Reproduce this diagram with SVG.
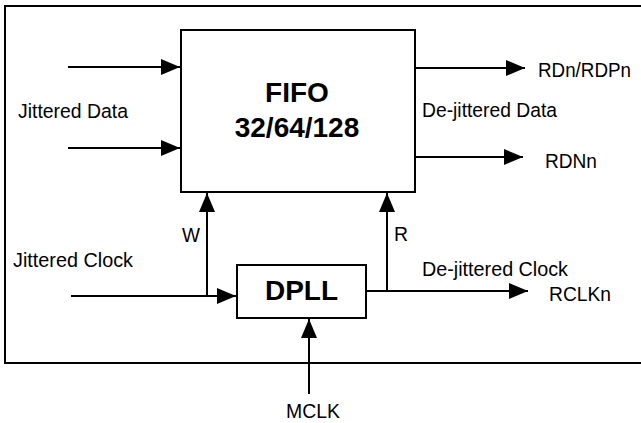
<svg xmlns="http://www.w3.org/2000/svg" width="641" height="423" viewBox="0 0 641 423">
  <style>
    .box { fill: #ffffff; stroke: #000000; stroke-width: 2; }
    .frame { fill: none; stroke: #000000; stroke-width: 2; }
    .wire { fill: none; stroke: #000000; stroke-width: 2; marker-end: url(#arrow); }
    .lbl { font-family: "Liberation Sans", Arial, sans-serif; font-size: 20.5px; fill: #000000; }
    .title { font-family: "Liberation Sans", Arial, sans-serif; font-size: 28px; font-weight: bold; fill: #000000; text-anchor: middle; }
  </style>
  <defs>
    <marker id="arrow" viewBox="0 0 19 16" refX="19" refY="8" markerWidth="19" markerHeight="16" markerUnits="userSpaceOnUse" orient="auto">
      <path d="M0,0 L19,8 L0,16 z" fill="#000000"/>
    </marker>
  </defs>

  <rect id="frame" class="frame" x="5" y="6" width="660" height="357"/>

  <g id="fifo">
    <rect class="box" x="181" y="30" width="234" height="162"/>
    <text class="title" x="297" y="101.5">FIFO</text>
    <text class="title" x="297" y="136.5">32/64/128</text>
  </g>

  <g id="dpll">
    <rect class="box" x="237" y="265" width="129" height="53"/>
    <text class="title" x="301.5" y="300">DPLL</text>
  </g>

  <g id="connectors">
    <path class="wire" d="M68 67 H180"/>
    <path class="wire" d="M68 148 H180"/>
    <path class="wire" d="M415 68 H525"/>
    <path class="wire" d="M415 157 H523"/>
    <path class="wire" d="M71 296 H236"/>
    <path class="wire" d="M207 296 V193"/>
    <path class="wire" d="M387 291 V193"/>
    <path class="wire" d="M366 291 H528"/>
    <path class="wire" d="M309 394 V319"/>
  </g>

  <g id="labels">
    <text class="lbl" x="18" y="118" textLength="110" lengthAdjust="spacingAndGlyphs">Jittered Data</text>
    <text class="lbl" x="538" y="77" textLength="93" lengthAdjust="spacingAndGlyphs">RDn/RDPn</text>
    <text class="lbl" x="422" y="117" textLength="135" lengthAdjust="spacingAndGlyphs">De-jittered Data</text>
    <text class="lbl" x="545" y="168" textLength="52" lengthAdjust="spacingAndGlyphs">RDNn</text>
    <text class="lbl" x="182" y="242" textLength="18" lengthAdjust="spacingAndGlyphs">W</text>
    <text class="lbl" x="13" y="267" textLength="120" lengthAdjust="spacingAndGlyphs">Jittered Clock</text>
    <text class="lbl" x="394" y="241" textLength="14" lengthAdjust="spacingAndGlyphs">R</text>
    <text class="lbl" x="422" y="276" textLength="146" lengthAdjust="spacingAndGlyphs">De-jittered Clock</text>
    <text class="lbl" x="549" y="301" textLength="62" lengthAdjust="spacingAndGlyphs">RCLKn</text>
    <text class="lbl" x="286" y="418" textLength="54" lengthAdjust="spacingAndGlyphs">MCLK</text>
  </g>
</svg>
